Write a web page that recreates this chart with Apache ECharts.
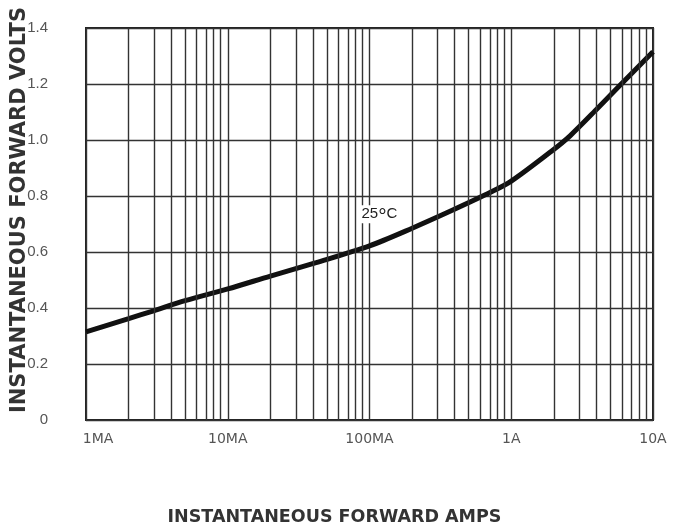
<!DOCTYPE html>
<html>
<head>
<meta charset="utf-8">
<script src="https://cdn.jsdelivr.net/npm/echarts@6/dist/echarts.min.js"></script>
<style>html,body{margin:0;padding:0;background:#fff}#c{width:675px;height:531px}</style>
</head>
<body>
<div id="c"></div>
<script>
// Data (current in amps, forward voltage in volts)
const currentA = [0.001, 0.002, 0.003, 0.005, 0.01, 0.02, 0.042, 0.1, 0.2, 0.38, 0.72, 1, 1.9, 2.6, 4.1, 5.9, 10];
const voltage  = [0.315, 0.362, 0.39, 0.426, 0.468, 0.514, 0.562, 0.622, 0.685, 0.748, 0.814, 0.853, 0.958, 1.015, 1.115, 1.197, 1.315];
const xTickDecades = [-3, -2, -1, 0, 1];           // log10 of amps
const xTickLabels  = ['1MA', '10MA', '100MA', '1A', '10A'];
const yTickMax = 1.4;
const curveLabelAt = [Math.log10(0.085), 0.735];    // [log10 amps, volts]

// minor log grid positions (2..9 within each decade), in log10 units
const minorLines = [];
xTickDecades.slice(0, -1).forEach(d => { for (let k = 2; k <= 9; k++) minorLines.push({ xAxis: d + Math.log10(k) }); });

const gridColor = '#333';
const labelFont = 'Liberation Sans, Arial, sans-serif';
const chart = echarts.init(document.getElementById('c'), null, { renderer: 'canvas' });
chart.setOption({
  animation: false,
  backgroundColor: '#ffffff',
  grid: { left: 86, right: 22, top: 28, bottom: 111, show: true, borderColor: '#222', borderWidth: 2, outerBoundsMode: 'none', containLabel: false },
  xAxis: {
    type: 'value', min: -3, max: 1, interval: 1,
    name: 'INSTANTANEOUS FORWARD AMPS', nameLocation: 'middle', nameGap: 88, nameMoveOverlap: false,
    nameTextStyle: { fontFamily: 'DejaVu Sans, sans-serif', fontWeight: 'bold', fontSize: 17.5, color: '#333', padding: [0, 70, 0, 0] },
    axisLine: { show: false }, axisTick: { show: false },
    splitLine: { show: true, lineStyle: { color: gridColor, width: 1.4 } },
    axisLabel: {
      margin: 12, color: '#555', fontFamily: 'DejaVu Sans, sans-serif', fontSize: 14,
      formatter: v => { const i = xTickDecades.indexOf(Math.round(v)); if (i === 0) return '{f|' + xTickLabels[i] + '}'; return i >= 0 ? xTickLabels[i] : ''; },
      rich: { f: { padding: [0, 0, 0, 24], fontSize: 14, color: '#555', fontFamily: 'DejaVu Sans, sans-serif' } }
    }
  },
  yAxis: {
    type: 'value', min: 0, max: yTickMax, interval: 0.2,
    name: 'INSTANTANEOUS FORWARD VOLTS', nameLocation: 'middle', nameGap: 56, nameMoveOverlap: false,
    nameTextStyle: { fontFamily: 'DejaVu Sans, sans-serif', fontWeight: 'bold', fontSize: 21, color: '#333', padding: [0, 0, 0, 28] },
    axisLine: { show: false }, axisTick: { show: false },
    splitLine: { show: true, lineStyle: { color: gridColor, width: 1.4 } },
    axisLabel: { margin: 38, color: '#555', fontFamily: labelFont, fontSize: 15,
      formatter: v => v === 0 ? '0' : v.toFixed(1) }
  },
  series: [{
    type: 'line', smooth: 0.3, symbol: 'none',
    data: currentA.map((x, i) => [Math.log10(x), voltage[i]]),
    lineStyle: { color: '#111', width: 5 },
    markLine: {
      silent: true, symbol: 'none', label: { show: false },
      lineStyle: { color: gridColor, width: 1.4, type: 'solid' },
      data: minorLines
    },
    markPoint: {
      symbol: 'circle', symbolSize: 0,
      data: [{ coord: curveLabelAt, value: '25°C' }],
      label: { show: true, formatter: '25{d|°}C', color: '#222', fontSize: 15, position: 'right', distance: 0,
        fontFamily: labelFont, backgroundColor: '#fff', padding: [1, 2],
        rich: { d: { fontSize: 21, color: '#222', fontFamily: labelFont, lineHeight: 16, padding: [6, 0, 0, 0] } } }
    },
    z: 3
  }]
});
</script>
</body>
</html>
